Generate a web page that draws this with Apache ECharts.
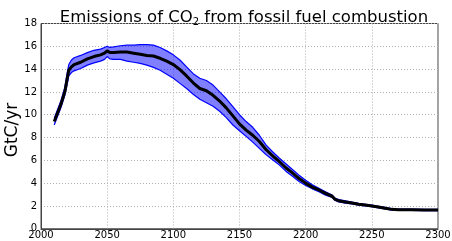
<!DOCTYPE html>
<html><head><meta charset="utf-8">
<script src="https://cdn.jsdelivr.net/npm/echarts@6/dist/echarts.min.js"></script>
<style>html,body{margin:0;padding:0;background:#fff}#c{width:452px;height:241px}</style>
</head><body><div id="c"></div>
<script>
var years = [2010,2015,2018,2020,2021,2023,2025,2030,2035,2040,2045,2048,2050,2052,2055,2060,2065,2070,2075,2080,2085,2090,2095,2100,2105,2110,2115,2120,2125,2130,2135,2140,2145,2150,2155,2160,2165,2170,2175,2180,2185,2190,2195,2200,2205,2210,2215,2220,2222,2225,2230,2235,2240,2245,2250,2255,2260,2265,2270,2280,2290,2300];
var meanVals = [9.4,10.9,12.0,13.3,13.9,14.2,14.4,14.6,14.9,15.1,15.25,15.4,15.6,15.45,15.45,15.5,15.5,15.4,15.3,15.2,15.15,14.95,14.7,14.4,13.95,13.4,12.8,12.3,12.1,11.7,11.2,10.6,9.9,9.2,8.65,8.2,7.65,6.95,6.4,5.9,5.35,4.9,4.4,4.0,3.65,3.4,3.1,2.85,2.6,2.45,2.35,2.25,2.15,2.08,2.0,1.9,1.8,1.7,1.67,1.66,1.65,1.65];
var upperVals = [9.7,11.2,12.4,13.8,14.4,14.8,15.0,15.2,15.45,15.65,15.75,15.9,16.0,15.9,15.95,16.05,16.1,16.1,16.15,16.15,16.1,15.9,15.6,15.25,14.8,14.2,13.6,13.2,13.0,12.6,12.0,11.4,10.7,10.0,9.4,8.9,8.2,7.35,6.75,6.2,5.7,5.2,4.7,4.25,3.85,3.55,3.25,2.95,2.7,2.55,2.45,2.33,2.23,2.15,2.07,1.97,1.87,1.77,1.73,1.72,1.71,1.71];
var lowerVals = [9.1,10.6,11.7,12.8,13.4,13.7,13.85,14.05,14.35,14.55,14.7,14.85,15.1,14.9,14.85,14.85,14.7,14.6,14.5,14.35,14.15,13.9,13.55,13.2,12.75,12.3,11.8,11.35,11.05,10.75,10.3,9.75,9.1,8.6,8.1,7.6,7.05,6.5,6.05,5.6,5.05,4.6,4.15,3.8,3.5,3.25,2.95,2.75,2.5,2.35,2.25,2.17,2.07,2.01,1.93,1.83,1.73,1.63,1.61,1.6,1.59,1.59];
var xTicks = [2000,2050,2100,2150,2200,2250,2300];
var yTicks = [0,2,4,6,8,10,12,14,16,18];
var yAxisTitle = 'GtC/yr';

function pairs(v){return years.map(function(y,i){return [y,v[i]];});}
var chart = echarts.init(document.getElementById('c'), null, {renderer:'canvas'});
var font = 'DejaVu Sans';
chart.setOption({
  animation:false,
  backgroundColor:'#fff',
  title:{
    text:'Emissions of CO{sub|2} from fossil fuel combustion',
    left:239, textAlign:'center', top:3,
    textStyle:{fontFamily:font,fontSize:16.5,fontWeight:'normal',color:'#000',
      rich:{sub:{fontFamily:font,fontSize:10,verticalAlign:'bottom',padding:[9,0,0,0],color:'#000'}}}
  },
  graphic:[{type:'text',x:13,y:130,rotation:Math.PI/2,z:10,
    style:{text:yAxisTitle,font:'17px "DejaVu Sans"',fill:'#000',align:'center',verticalAlign:'middle',textAlign:'center',textVerticalAlign:'middle'}}],
  grid:{left:41,right:14,top:23.5,bottom:12.25,show:true,borderColor:'#444',borderWidth:1,containLabel:false,outerBoundsMode:'none'},
  xAxis:{type:'value',min:xTicks[0],max:xTicks[xTicks.length-1],interval:50,
    axisLine:{show:true,lineStyle:{color:'#444'}},axisTick:{show:false},
    axisLabel:{fontFamily:font,fontSize:10,color:'#000',margin:2,formatter:function(v){return String(v);}},
    splitLine:{show:true,lineStyle:{color:'#b0b0b0',type:[1,2],width:1}}},
  yAxis:{type:'value',min:yTicks[0],max:yTicks[yTicks.length-1],interval:2,
    axisLine:{show:true,lineStyle:{color:'#444'}},axisTick:{show:false},
    axisLabel:{fontFamily:font,fontSize:10,color:'#000',margin:4},
    splitLine:{show:true,lineStyle:{color:'#b0b0b0',type:[1,2],width:1}}},
  series:[
    {type:'custom',data:[[years[0],0]],silent:true,z:1,
     renderItem:function(params,api){
       var pts=[];
       for(var i=0;i<years.length;i++) pts.push(api.coord([years[i],upperVals[i]]));
       for(var j=years.length-1;j>=0;j--) pts.push(api.coord([years[j],lowerVals[j]]));
       return {type:'polygon',shape:{points:pts},style:{fill:'rgba(0,0,255,0.5)',stroke:null}};
     }},
    {type:'line',data:pairs(upperVals),showSymbol:false,z:2,lineStyle:{color:'#0000ff',width:1.2}},
    {type:'line',data:pairs(lowerVals),showSymbol:false,z:2,lineStyle:{color:'#0000ff',width:1.2}},
    {type:'line',data:pairs(meanVals),showSymbol:false,z:3,lineStyle:{color:'#000',width:3}}
  ]
});
</script></body></html>
